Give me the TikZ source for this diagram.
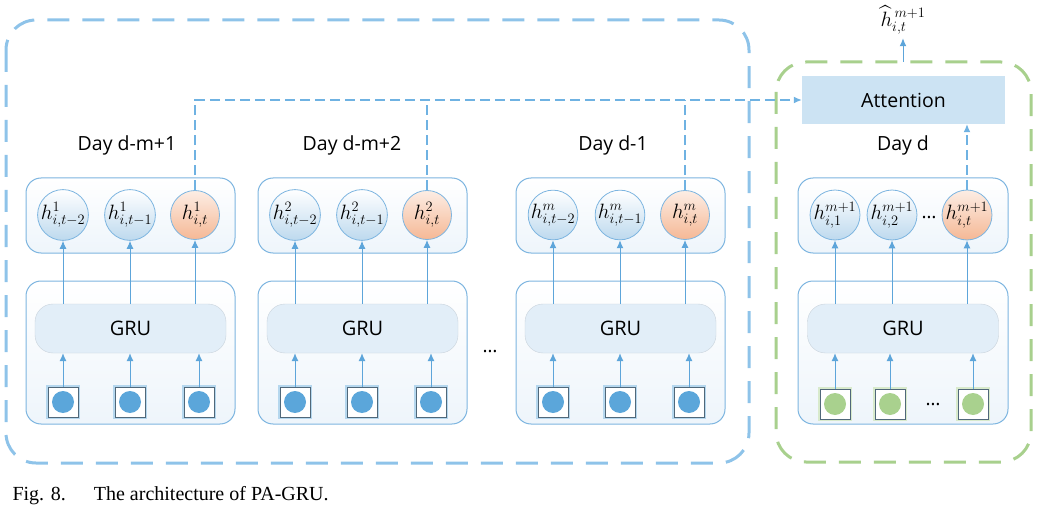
\documentclass[tikz,border=0pt]{standalone}
\usepackage{amsmath,amssymb}
\usepackage{fontspec}
\setmainfont{Open Sans}
\newfontfamily\capfont{Liberation Serif}
\usepackage{tikz}
\usetikzlibrary{
	positioning,
	arrows.meta
}

\definecolor{lineblue}{HTML}{5DA5DA}
\definecolor{linkblue}{HTML}{6FB2E2}
\definecolor{dashblue}{HTML}{8EC3E9}
\definecolor{dashgreen}{HTML}{A8D08D}
\definecolor{boxblue}{HTML}{7DB5E0}
\definecolor{boxfill}{HTML}{EEF5FB}
\definecolor{grufill}{HTML}{E2EEF8}
\definecolor{gruline}{HTML}{C9D3DC}
\definecolor{attfill}{HTML}{CCE3F3}
\definecolor{hblue}{HTML}{BDD9EE}
\definecolor{horange}{HTML}{F5B895}
\definecolor{dotblue}{HTML}{5BA6DA}
\definecolor{dotgreen}{HTML}{A9D18E}
\definecolor{sqline}{HTML}{50687A}

\tikzset{
	outerbox/.style={line width=3pt,dash pattern=on 22pt off 13pt,rounded corners=30pt},
	daybox/.style={draw=boxblue,line width=1pt,rounded corners=15pt,top color=white,bottom color=boxfill},
	grubox/.style={draw=gruline,fill=grufill,rounded corners=18pt,minimum width=191pt,minimum height=49pt,font=\fontsize{20}{24}\selectfont},
	hnode/.style={circle,draw=boxblue,line width=0.8pt,minimum size=49pt,inner sep=0pt,top color=white,bottom color=hblue,font=\fontsize{22}{26}\selectfont},
	hlast/.style={hnode,bottom color=horange,top color=horange!25},
	inbox/.style={draw=sqline,line width=0.9pt,fill=white,minimum size=30pt,inner sep=0pt,
		preaction={draw=#1!45,line width=4pt},
		path picture={\fill[#1] (path picture bounding box.center) circle (11pt);}},
	inbox/.default=dotblue,
	uparrow/.style={draw=lineblue,line width=1pt,-{Latex[length=8pt,width=7pt]}},
	dashlink/.style={uparrow,draw=linkblue,line width=1.2pt,dash pattern=on 10pt off 5pt},
	daylabel/.style={font=\fontsize{19.5}{23}\selectfont}
}

\begin{document}
\begin{tikzpicture}[x=1pt,y=-1pt]
	\useasboundingbox (0,0) rectangle (1037,508);

	% outer dashed frames
	\draw[outerbox,draw=dashblue] (6,20) rectangle (749,463);
	\draw[outerbox,draw=dashgreen] (776,62) rectangle (1031,462);

	% attention and output
	\node[fill=attfill,minimum width=203pt,minimum height=48pt,font=\fontsize{19.5}{24}\selectfont] (att) at (903.5,100) {Attention};
	\node (out) at (903,20) {\fontsize{22}{26}\selectfont$\widehat{h}_{i,t}^{\,m+1}$};
	\coordinate (gtop) at (903,62);
	\draw[uparrow] (gtop) -- (out.south);

	% past days
	\foreach \g/\gx/\up/\lab/\lx in {1/26/1/{Day d-m+1}/127, 2/258/2/{Day d-m+2}/352, 3/516/m/{Day d-1}/613}{
		\draw[daybox] (\gx,178) rectangle (\gx+209,253);
		\draw[daybox] (\gx,281) rectangle (\gx+209,424);
		\node[daylabel] (day\g) at (\lx,145) {\lab};
		\node[grubox] (gru\g) at (\gx+104.5,328.5) {GRU};
		\node[hnode] (h\g-1) at (\gx+37,215)  {$h_{i,t-2}^{\up}$};
		\node[hnode] (h\g-2) at (\gx+104,215) {$h_{i,t-1}^{\up}$};
		\node[hlast] (h\g-3) at (\gx+169,215) {$h_{i,t}^{\up}$};
		\node[inbox] (in\g-1) at (\gx+37,402)  {};
		\node[inbox] (in\g-2) at (\gx+104,402) {};
		\node[inbox] (in\g-3) at (\gx+173,402) {};
		\foreach \k in {1,2,3}{
			\draw[uparrow] (gru\g.north -| h\g-\k) -- (h\g-\k.south);
			\draw[uparrow] (in\g-\k.north) -- (in\g-\k.north |- gru\g.south);
		}
	}
	\node[font=\fontsize{19}{23}\selectfont] (skip) at (490,352) {\ldots};

	% day d
	\draw[daybox] (798,178) rectangle (1008,253);
	\draw[daybox] (798,281) rectangle (1008,424);
	\node[daylabel] (day4) at (903,145) {Day d};
	\node[grubox] (gru4) at (903,328.5) {GRU};
	\node[hnode] (h4-1) at (835,215) {$h_{i,1}^{m+1}$};
	\node[hnode] (h4-2) at (892,215) {$h_{i,2}^{m+1}$};
	\node[hlast] (h4-3) at (967,215) {$h_{i,t}^{m+1}$};
	\node[font=\fontsize{19}{23}\selectfont] (hdots) at (929,218) {\ldots};
	\node[inbox=dotgreen] (in4-1) at (835,404) {};
	\node[inbox=dotgreen] (in4-2) at (890,404) {};
	\node[inbox=dotgreen] (in4-3) at (973,404) {};
	\node[font=\fontsize{19}{23}\selectfont] (indots) at (933,405) {\ldots};
	\foreach \k in {1,2,3}{
		\draw[uparrow] (gru4.north -| h4-\k) -- (h4-\k.south);
		\draw[uparrow] (in4-\k.north) -- (in4-\k.north |- gru4.south);
	}

	% links to attention
	\draw[dashlink] (h1-3.north) |- (att.west);
	\draw[dashlink,-] (h2-3.north) -- (h2-3.north |- att.west);
	\draw[dashlink,-] (h3-3.north) -- (h3-3.north |- att.west);
	\draw[dashlink] (h4-3.north) -- (h4-3.north |- att.south);

	% caption
	\node[anchor=base west,font=\capfont\fontsize{20}{24}\selectfont] (cap) at (9,500) {Fig. 8.\hspace{1.4em}The architecture of PA-GRU.};
\end{tikzpicture}
\end{document}
